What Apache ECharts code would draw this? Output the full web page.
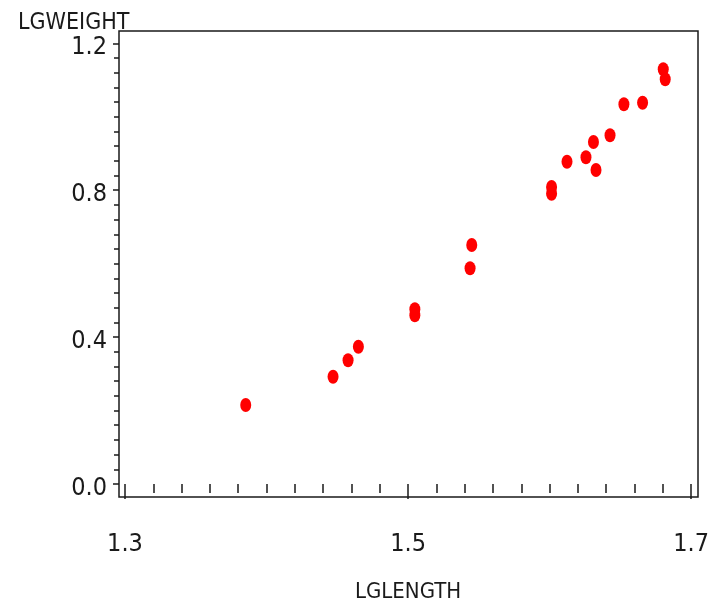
<!DOCTYPE html>
<html>
<head>
<meta charset="utf-8">
<script src="https://cdn.jsdelivr.net/npm/echarts@6/dist/echarts.min.js"></script>
<style>
	html, body { margin: 0; padding: 0; background: #fff; }
	#chart { width: 712px; height: 615px; }
</style>
</head>
<body>
<div id="chart"></div>
<script>
// log length vs log weight
const lglength = [
	1.3853, 1.4470, 1.4576, 1.4649, 1.5048, 1.5048, 1.5438, 1.5450,
	1.6014, 1.6014, 1.6123, 1.6257, 1.6328, 1.6310, 1.6427, 1.6525,
	1.6657, 1.6803, 1.6817
]
const lgweight = [
	0.2151, 0.2922, 0.3368, 0.3739, 0.4757, 0.4594, 0.5873, 0.6508,
	0.8087, 0.7905, 0.8776, 0.8896, 0.8550, 0.9312, 0.9495, 1.0339,
	1.0383, 1.1292, 1.1020
]
const xTicks = [1.3, 1.5, 1.7]
const yTicks = [0.0, 0.4, 0.8, 1.2]

const font = "'Liberation Sans Narrow', 'DejaVu Sans Condensed', 'Liberation Sans', sans-serif"
const ink = '#1a1a1a'

const chart = echarts.init(document.getElementById('chart'))
chart.setOption({
	backgroundColor: '#fff',
	animation: false,
	title: {
		text: 'LGWEIGHT',
		left: 13,
		top: 7,
		textStyle: { fontFamily: font, fontSize: 23, fontWeight: 'normal', color: ink }
	},
	grid: [
		// frame
		{ left: 119, right: 14, top: 31, bottom: 118, show: true, borderColor: ink, borderWidth: 1.5 },
		// data area
		{ left: 125, right: 19.3, top: 43.3, bottom: 131 }
	],
	xAxis: [
		{ gridIndex: 0, type: 'value', show: false },
		{
			gridIndex: 1,
			type: 'value',
			min: xTicks[0],
			max: xTicks[xTicks.length - 1],
			interval: xTicks[1] - xTicks[0],
			offset: 13.3,
			name: 'LGLENGTH',
			nameLocation: 'middle',
			nameGap: 84,
			nameTextStyle: { fontFamily: font, fontSize: 22, color: ink },
			axisLine: { show: false },
			axisTick: { show: true, length: 15, lineStyle: { color: ink, width: 1.5 } },
			minorTick: { show: true, splitNumber: 10, length: 9, lineStyle: { color: ink, width: 1.5 } },
			splitLine: { show: false },
			axisLabel: {
				margin: 35,
				fontFamily: font,
				fontSize: 25,
				color: ink,
				formatter: v => v.toFixed(1)
			}
		}
	],
	yAxis: [
		{ gridIndex: 0, type: 'value', show: false },
		{
			gridIndex: 1,
			type: 'value',
			min: yTicks[0],
			max: yTicks[yTicks.length - 1],
			interval: yTicks[1] - yTicks[0],
			offset: 6,
			axisLine: { show: false },
			axisTick: { show: true, length: 6, lineStyle: { color: ink, width: 1.5 } },
			minorTick: { show: true, splitNumber: 10, length: 5, lineStyle: { color: ink, width: 1.5 } },
			splitLine: { show: false },
			axisLabel: {
				margin: 12,
				verticalAlign: 'top',
				lineHeight: 8,
				fontFamily: font,
				fontSize: 25,
				color: ink,
				formatter: v => v.toFixed(1)
			}
		}
	],
	series: [{
		type: 'scatter',
		xAxisIndex: 1,
		yAxisIndex: 1,
		symbol: 'circle',
		symbolSize: [11, 14],
		itemStyle: { color: '#ff0000', opacity: 1 },
		data: lglength.map((x, i) => [x, lgweight[i]])
	}]
})
</script>
</body>
</html>
